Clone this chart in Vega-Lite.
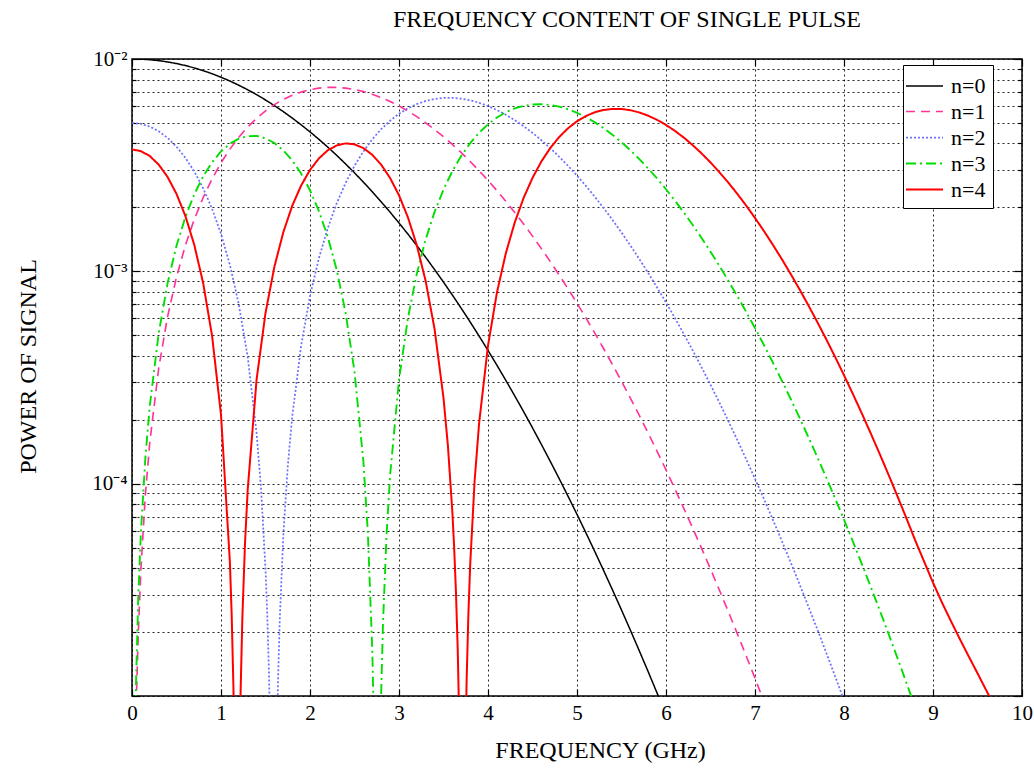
{
"$schema": "https://vega.github.io/schema/vega-lite/v6.json",
"width": 890, "height": 637,
"autosize": {"type": "none"},
"padding": {"left": 132, "top": 59, "right": 12, "bottom": 72},
"title": {"text": "FREQUENCY CONTENT OF SINGLE PULSE", "font": "Liberation Serif", "fontSize": 24, "fontWeight": "normal", "color": "black", "offset": 16, "dx": 50, "anchor": "middle"},
"config": {
  "font": "Liberation Serif",
  "view": {"stroke": "black", "strokeWidth": 1.5},
  "legend": {"labelFont": "Liberation Serif"},
  "axis": {"labelFont": "Liberation Serif", "titleFont": "Liberation Serif", "labelColor": "black", "titleColor": "black", "titleFontWeight": "normal", "gridColor": "black", "gridDash": [2, 3], "gridOpacity": 0.85, "gridWidth": 1, "tickColor": "black", "tickWidth": 1.2, "domain": false}
},
"datasets": {"pts": [
{"f":0,"n":"n=0","p":0.01},{"f":0.1,"n":"n=0","p":0.00998},{"f":0.2,"n":"n=0","p":0.009921},{"f":0.3,"n":"n=0","p":0.009824},{"f":0.4,"n":"n=0","p":0.009689},{"f":0.5,"n":"n=0","p":0.009518},{"f":0.6,"n":"n=0","p":0.009314},{"f":0.7,"n":"n=0","p":0.009077},{"f":0.8,"n":"n=0","p":0.008812},{"f":0.9,"n":"n=0","p":0.008521},{"f":1,"n":"n=0","p":0.008208},{"f":1.1,"n":"n=0","p":0.007874},{"f":1.2,"n":"n=0","p":0.007524},{"f":1.3,"n":"n=0","p":0.007162},{"f":1.4,"n":"n=0","p":0.00679},{"f":1.5,"n":"n=0","p":0.006412},{"f":1.6,"n":"n=0","p":0.006031},{"f":1.7,"n":"n=0","p":0.00565},{"f":1.8,"n":"n=0","p":0.005273},{"f":1.9,"n":"n=0","p":0.004901},{"f":2,"n":"n=0","p":0.004538},{"f":2.1,"n":"n=0","p":0.004185},{"f":2.2,"n":"n=0","p":0.003844},{"f":2.3,"n":"n=0","p":0.003517},{"f":2.4,"n":"n=0","p":0.003205},{"f":2.5,"n":"n=0","p":0.00291},{"f":2.6,"n":"n=0","p":0.002631},{"f":2.7,"n":"n=0","p":0.002369},{"f":2.8,"n":"n=0","p":0.002125},{"f":2.9,"n":"n=0","p":0.001899},{"f":3,"n":"n=0","p":0.00169},{"f":3.1,"n":"n=0","p":0.001498},{"f":3.2,"n":"n=0","p":0.001323},{"f":3.3,"n":"n=0","p":0.001164},{"f":3.4,"n":"n=0","p":0.001019},{"f":3.5,"n":"n=0","p":8.894e-4},{"f":3.6,"n":"n=0","p":7.731e-4},{"f":3.7,"n":"n=0","p":6.692e-4},{"f":3.8,"n":"n=0","p":5.771e-4},{"f":3.9,"n":"n=0","p":4.957e-4},{"f":4,"n":"n=0","p":4.241e-4},{"f":4.1,"n":"n=0","p":3.614e-4},{"f":4.2,"n":"n=0","p":3.067e-4},{"f":4.3,"n":"n=0","p":2.593e-4},{"f":4.4,"n":"n=0","p":2.184e-4},{"f":4.5,"n":"n=0","p":1.832e-4},{"f":4.6,"n":"n=0","p":1.53e-4},{"f":4.7,"n":"n=0","p":1.273e-4},{"f":4.8,"n":"n=0","p":1.056e-4},{"f":4.9,"n":"n=0","p":8.715e-5},{"f":5,"n":"n=0","p":7.167e-5},{"f":5.1,"n":"n=0","p":5.871e-5},{"f":5.2,"n":"n=0","p":4.79e-5},{"f":5.3,"n":"n=0","p":3.893e-5},{"f":5.4,"n":"n=0","p":3.151e-5},{"f":5.5,"n":"n=0","p":2.541e-5},{"f":5.6,"n":"n=0","p":2.041e-5},{"f":5.7,"n":"n=0","p":1.632e-5},{"f":5.8,"n":"n=0","p":1.301e-5},{"f":5.9,"n":"n=0","p":1.032e-5},{"f":6,"n":"n=0","p":8.16e-6},
{"f":0,"n":"n=1","p":1e-9},{"f":0.05,"n":"n=1","p":9.88e-6},{"f":0.07,"n":"n=1","p":1.935e-5},{"f":0.1,"n":"n=1","p":3.943e-5},{"f":0.15,"n":"n=1","p":8.85e-5},{"f":0.2,"n":"n=1","p":1.568e-4},{"f":0.3,"n":"n=1","p":3.493e-4},{"f":0.4,"n":"n=1","p":6.124e-4},{"f":0.5,"n":"n=1","p":9.401e-4},{"f":0.6,"n":"n=1","p":0.001325},{"f":0.7,"n":"n=1","p":0.001757},{"f":0.8,"n":"n=1","p":0.002228},{"f":0.9,"n":"n=1","p":0.002727},{"f":1,"n":"n=1","p":0.003242},{"f":1.1,"n":"n=1","p":0.003764},{"f":1.2,"n":"n=1","p":0.004281},{"f":1.3,"n":"n=1","p":0.004782},{"f":1.4,"n":"n=1","p":0.005258},{"f":1.5,"n":"n=1","p":0.005699},{"f":1.6,"n":"n=1","p":0.006099},{"f":1.7,"n":"n=1","p":0.006451},{"f":1.8,"n":"n=1","p":0.006749},{"f":1.9,"n":"n=1","p":0.00699},{"f":2,"n":"n=1","p":0.007171},{"f":2.1,"n":"n=1","p":0.007291},{"f":2.2,"n":"n=1","p":0.00735},{"f":2.3,"n":"n=1","p":0.00735},{"f":2.4,"n":"n=1","p":0.007294},{"f":2.5,"n":"n=1","p":0.007184},{"f":2.6,"n":"n=1","p":0.007026},{"f":2.7,"n":"n=1","p":0.006824},{"f":2.8,"n":"n=1","p":0.006583},{"f":2.9,"n":"n=1","p":0.00631},{"f":3,"n":"n=1","p":0.006009},{"f":3.1,"n":"n=1","p":0.005688},{"f":3.2,"n":"n=1","p":0.005352},{"f":3.3,"n":"n=1","p":0.005006},{"f":3.4,"n":"n=1","p":0.004655},{"f":3.5,"n":"n=1","p":0.004304},{"f":3.6,"n":"n=1","p":0.003958},{"f":3.7,"n":"n=1","p":0.00362},{"f":3.8,"n":"n=1","p":0.003292},{"f":3.9,"n":"n=1","p":0.002978},{"f":4,"n":"n=1","p":0.00268},{"f":4.1,"n":"n=1","p":0.0024},{"f":4.2,"n":"n=1","p":0.002137},{"f":4.3,"n":"n=1","p":0.001894},{"f":4.4,"n":"n=1","p":0.00167},{"f":4.5,"n":"n=1","p":0.001465},{"f":4.6,"n":"n=1","p":0.001279},{"f":4.7,"n":"n=1","p":0.001111},{"f":4.8,"n":"n=1","p":9.607e-4},{"f":4.9,"n":"n=1","p":8.266e-4},{"f":5,"n":"n=1","p":7.078e-4},{"f":5.1,"n":"n=1","p":6.033e-4},{"f":5.2,"n":"n=1","p":5.117e-4},{"f":5.3,"n":"n=1","p":4.32e-4},{"f":5.4,"n":"n=1","p":3.63e-4},{"f":5.5,"n":"n=1","p":3.036e-4},{"f":5.6,"n":"n=1","p":2.528e-4},{"f":5.7,"n":"n=1","p":2.095e-4},{"f":5.8,"n":"n=1","p":1.729e-4},{"f":5.9,"n":"n=1","p":1.42e-4},{"f":6,"n":"n=1","p":1.161e-4},{"f":6.1,"n":"n=1","p":9.445e-5},{"f":6.2,"n":"n=1","p":7.653e-5},{"f":6.3,"n":"n=1","p":6.173e-5},{"f":6.4,"n":"n=1","p":4.957e-5},{"f":6.5,"n":"n=1","p":3.963e-5},{"f":6.6,"n":"n=1","p":3.154e-5},{"f":6.7,"n":"n=1","p":2.499e-5},{"f":6.8,"n":"n=1","p":1.972e-5},{"f":6.9,"n":"n=1","p":1.549e-5},{"f":7,"n":"n=1","p":1.211e-5},{"f":7.1,"n":"n=1","p":9.43e-6},
{"f":0,"n":"n=2","p":0.005},{"f":0.1,"n":"n=2","p":0.004951},{"f":0.2,"n":"n=2","p":0.004805},{"f":0.3,"n":"n=2","p":0.004569},{"f":0.4,"n":"n=2","p":0.004251},{"f":0.5,"n":"n=2","p":0.003865},{"f":0.6,"n":"n=2","p":0.003426},{"f":0.7,"n":"n=2","p":0.002952},{"f":0.8,"n":"n=2","p":0.00246},{"f":0.9,"n":"n=2","p":0.00197},{"f":1,"n":"n=2","p":0.001502},{"f":1.1,"n":"n=2","p":0.001073},{"f":1.2,"n":"n=2","p":6.992e-4},{"f":1.3,"n":"n=2","p":3.955e-4},{"f":1.4,"n":"n=2","p":1.729e-4},{"f":1.45,"n":"n=2","p":9.47e-5},{"f":1.5,"n":"n=2","p":3.958e-5},{"f":1.52,"n":"n=2","p":2.412e-5},{"f":1.54,"n":"n=2","p":1.245e-5},{"f":1.56,"n":"n=2","p":4.6e-6},{"f":1.591,"n":"n=2","p":1e-9},{"f":1.62,"n":"n=2","p":4.03e-6},{"f":1.64,"n":"n=2","p":1.15e-5},{"f":1.66,"n":"n=2","p":2.279e-5},{"f":1.7,"n":"n=2","p":5.675e-5},{"f":1.75,"n":"n=2","p":1.203e-4},{"f":1.8,"n":"n=2","p":2.067e-4},{"f":1.9,"n":"n=2","p":4.451e-4},{"f":2,"n":"n=2","p":7.639e-4},{"f":2.1,"n":"n=2","p":0.001153},{"f":2.2,"n":"n=2","p":0.001599},{"f":2.3,"n":"n=2","p":0.002089},{"f":2.4,"n":"n=2","p":0.002608},{"f":2.5,"n":"n=2","p":0.00314},{"f":2.6,"n":"n=2","p":0.003671},{"f":2.7,"n":"n=2","p":0.004187},{"f":2.8,"n":"n=2","p":0.004674},{"f":2.9,"n":"n=2","p":0.005122},{"f":3,"n":"n=2","p":0.005519},{"f":3.1,"n":"n=2","p":0.005859},{"f":3.2,"n":"n=2","p":0.006135},{"f":3.3,"n":"n=2","p":0.006344},{"f":3.4,"n":"n=2","p":0.006484},{"f":3.5,"n":"n=2","p":0.006556},{"f":3.6,"n":"n=2","p":0.006561},{"f":3.7,"n":"n=2","p":0.006503},{"f":3.8,"n":"n=2","p":0.006387},{"f":3.9,"n":"n=2","p":0.006218},{"f":4,"n":"n=2","p":0.006003},{"f":4.1,"n":"n=2","p":0.005749},{"f":4.2,"n":"n=2","p":0.005464},{"f":4.3,"n":"n=2","p":0.005153},{"f":4.4,"n":"n=2","p":0.004826},{"f":4.5,"n":"n=2","p":0.004487},{"f":4.6,"n":"n=2","p":0.004144},{"f":4.7,"n":"n=2","p":0.003801},{"f":4.8,"n":"n=2","p":0.003464},{"f":4.9,"n":"n=2","p":0.003137},{"f":5,"n":"n=2","p":0.002823},{"f":5.1,"n":"n=2","p":0.002525},{"f":5.2,"n":"n=2","p":0.002245},{"f":5.3,"n":"n=2","p":0.001984},{"f":5.4,"n":"n=2","p":0.001744},{"f":5.5,"n":"n=2","p":0.001523},{"f":5.6,"n":"n=2","p":0.001323},{"f":5.7,"n":"n=2","p":0.001143},{"f":5.8,"n":"n=2","p":9.823e-4},{"f":5.9,"n":"n=2","p":8.393e-4},{"f":6,"n":"n=2","p":7.133e-4},{"f":6.1,"n":"n=2","p":6.03e-4},{"f":6.2,"n":"n=2","p":5.071e-4},{"f":6.3,"n":"n=2","p":4.242e-4},{"f":6.4,"n":"n=2","p":3.53e-4},{"f":6.5,"n":"n=2","p":2.923e-4},{"f":6.6,"n":"n=2","p":2.408e-4},{"f":6.7,"n":"n=2","p":1.973e-4},{"f":6.8,"n":"n=2","p":1.609e-4},{"f":6.9,"n":"n=2","p":1.306e-4},{"f":7,"n":"n=2","p":1.055e-4},{"f":7.1,"n":"n=2","p":8.474e-5},{"f":7.2,"n":"n=2","p":6.776e-5},{"f":7.3,"n":"n=2","p":5.392e-5},{"f":7.4,"n":"n=2","p":4.27e-5},{"f":7.5,"n":"n=2","p":3.366e-5},{"f":7.6,"n":"n=2","p":2.64e-5},{"f":7.7,"n":"n=2","p":2.061e-5},{"f":7.8,"n":"n=2","p":1.601e-5},{"f":7.9,"n":"n=2","p":1.239e-5},{"f":8,"n":"n=2","p":9.53e-6},
{"f":0,"n":"n=3","p":1e-9},{"f":0.04,"n":"n=3","p":9.5e-6},{"f":0.07,"n":"n=3","p":2.9e-5},{"f":0.1,"n":"n=3","p":5.898e-5},{"f":0.15,"n":"n=3","p":1.32e-4},{"f":0.2,"n":"n=3","p":2.327e-4},{"f":0.3,"n":"n=3","p":5.116e-4},{"f":0.4,"n":"n=3","p":8.803e-4},{"f":0.5,"n":"n=3","p":0.001319},{"f":0.6,"n":"n=3","p":0.001803},{"f":0.7,"n":"n=3","p":0.002307},{"f":0.8,"n":"n=3","p":0.002803},{"f":0.9,"n":"n=3","p":0.003264},{"f":1,"n":"n=3","p":0.003667},{"f":1.1,"n":"n=3","p":0.00399},{"f":1.2,"n":"n=3","p":0.004217},{"f":1.3,"n":"n=3","p":0.004335},{"f":1.4,"n":"n=3","p":0.004341},{"f":1.5,"n":"n=3","p":0.004233},{"f":1.6,"n":"n=3","p":0.00402},{"f":1.7,"n":"n=3","p":0.003713},{"f":1.8,"n":"n=3","p":0.003328},{"f":1.9,"n":"n=3","p":0.002886},{"f":2,"n":"n=3","p":0.002409},{"f":2.1,"n":"n=3","p":0.001922},{"f":2.2,"n":"n=3","p":0.00145},{"f":2.3,"n":"n=3","p":0.001015},{"f":2.4,"n":"n=3","p":6.38e-4},{"f":2.5,"n":"n=3","p":3.374e-4},{"f":2.6,"n":"n=3","p":1.27e-4},{"f":2.65,"n":"n=3","p":5.88e-5},{"f":2.7,"n":"n=3","p":1.638e-5},{"f":2.72,"n":"n=3","p":6.73e-6},{"f":2.74,"n":"n=3","p":1.3e-6},{"f":2.7557,"n":"n=3","p":1e-9},{"f":2.78,"n":"n=3","p":3.13e-6},{"f":2.8,"n":"n=3","p":1.038e-5},{"f":2.82,"n":"n=3","p":2.185e-5},{"f":2.86,"n":"n=3","p":5.73e-5},{"f":2.9,"n":"n=3","p":1.094e-4},{"f":3,"n":"n=3","p":3.091e-4},{"f":3.1,"n":"n=3","p":6.015e-4},{"f":3.2,"n":"n=3","p":9.749e-4},{"f":3.3,"n":"n=3","p":0.001415},{"f":3.4,"n":"n=3","p":0.001905},{"f":3.5,"n":"n=3","p":0.002428},{"f":3.6,"n":"n=3","p":0.002965},{"f":3.7,"n":"n=3","p":0.003499},{"f":3.8,"n":"n=3","p":0.004014},{"f":3.9,"n":"n=3","p":0.004494},{"f":4,"n":"n=3","p":0.004927},{"f":4.1,"n":"n=3","p":0.005302},{"f":4.2,"n":"n=3","p":0.005612},{"f":4.3,"n":"n=3","p":0.00585},{"f":4.4,"n":"n=3","p":0.006015},{"f":4.5,"n":"n=3","p":0.006105},{"f":4.6,"n":"n=3","p":0.006124},{"f":4.7,"n":"n=3","p":0.006075},{"f":4.8,"n":"n=3","p":0.005963},{"f":4.9,"n":"n=3","p":0.005795},{"f":5,"n":"n=3","p":0.005579},{"f":5.1,"n":"n=3","p":0.005322},{"f":5.2,"n":"n=3","p":0.005033},{"f":5.3,"n":"n=3","p":0.004721},{"f":5.4,"n":"n=3","p":0.004392},{"f":5.5,"n":"n=3","p":0.004054},{"f":5.6,"n":"n=3","p":0.003714},{"f":5.7,"n":"n=3","p":0.003378},{"f":5.8,"n":"n=3","p":0.00305},{"f":5.9,"n":"n=3","p":0.002735},{"f":6,"n":"n=3","p":0.002436},{"f":6.1,"n":"n=3","p":0.002155},{"f":6.2,"n":"n=3","p":0.001894},{"f":6.3,"n":"n=3","p":0.001654},{"f":6.4,"n":"n=3","p":0.001436},{"f":6.5,"n":"n=3","p":0.001238},{"f":6.6,"n":"n=3","p":0.001061},{"f":6.7,"n":"n=3","p":9.04e-4},{"f":6.8,"n":"n=3","p":7.661e-4},{"f":6.9,"n":"n=3","p":6.452e-4},{"f":7,"n":"n=3","p":5.403e-4},{"f":7.1,"n":"n=3","p":4.499e-4},{"f":7.2,"n":"n=3","p":3.725e-4},{"f":7.3,"n":"n=3","p":3.067e-4},{"f":7.4,"n":"n=3","p":2.511e-4},{"f":7.5,"n":"n=3","p":2.045e-4},{"f":7.6,"n":"n=3","p":1.657e-4},{"f":7.7,"n":"n=3","p":1.335e-4},{"f":7.8,"n":"n=3","p":1.07e-4},{"f":7.9,"n":"n=3","p":8.531e-5},{"f":8,"n":"n=3","p":6.766e-5},{"f":8.1,"n":"n=3","p":5.339e-5},{"f":8.2,"n":"n=3","p":4.191e-5},{"f":8.3,"n":"n=3","p":3.273e-5},{"f":8.4,"n":"n=3","p":2.543e-5},{"f":8.5,"n":"n=3","p":1.966e-5},{"f":8.6,"n":"n=3","p":1.512e-5},{"f":8.7,"n":"n=3","p":1.159e-5},{"f":8.8,"n":"n=3","p":8.83e-6},
{"f":0,"n":"n=4","p":0.00375},{"f":0.1,"n":"n=4","p":0.003684},{"f":0.2,"n":"n=4","p":0.00349},{"f":0.3,"n":"n=4","p":0.003181},{"f":0.4,"n":"n=4","p":0.002781},{"f":0.5,"n":"n=4","p":0.002317},{"f":0.6,"n":"n=4","p":0.001822},{"f":0.7,"n":"n=4","p":0.001331},{"f":0.8,"n":"n=4","p":8.786e-4},{"f":0.9,"n":"n=4","p":4.964e-4},{"f":1,"n":"n=4","p":2.111e-4},{"f":1.1,"n":"n=4","p":4.261e-5},{"f":1.12,"n":"n=4","p":2.41e-5},{"f":1.14,"n":"n=4","p":1.08e-5},{"f":1.16,"n":"n=4","p":2.76e-6},{"f":1.1805,"n":"n=4","p":1e-9},{"f":1.2,"n":"n=4","p":2.52e-6},{"f":1.22,"n":"n=4","p":1.032e-5},{"f":1.24,"n":"n=4","p":2.337e-5},{"f":1.27,"n":"n=4","p":5.27e-5},{"f":1.3,"n":"n=4","p":9.363e-5},{"f":1.4,"n":"n=4","p":3.097e-4},{"f":1.5,"n":"n=4","p":6.362e-4},{"f":1.6,"n":"n=4","p":0.001051},{"f":1.7,"n":"n=4","p":0.001527},{"f":1.8,"n":"n=4","p":0.002033},{"f":1.9,"n":"n=4","p":0.002535},{"f":2,"n":"n=4","p":0.003002},{"f":2.1,"n":"n=4","p":0.003403},{"f":2.2,"n":"n=4","p":0.003716},{"f":2.3,"n":"n=4","p":0.00392},{"f":2.4,"n":"n=4","p":0.004004},{"f":2.5,"n":"n=4","p":0.003964},{"f":2.6,"n":"n=4","p":0.003805},{"f":2.7,"n":"n=4","p":0.003537},{"f":2.8,"n":"n=4","p":0.003178},{"f":2.9,"n":"n=4","p":0.002751},{"f":3,"n":"n=4","p":0.002281},{"f":3.1,"n":"n=4","p":0.001797},{"f":3.2,"n":"n=4","p":0.001327},{"f":3.3,"n":"n=4","p":8.982e-4},{"f":3.4,"n":"n=4","p":5.336e-4},{"f":3.5,"n":"n=4","p":2.536e-4},{"f":3.55,"n":"n=4","p":1.502e-4},{"f":3.6,"n":"n=4","p":7.302e-5},{"f":3.62,"n":"n=4","p":4.974e-5},{"f":3.64,"n":"n=4","p":3.088e-5},{"f":3.66,"n":"n=4","p":1.646e-5},{"f":3.68,"n":"n=4","p":6.56e-6},{"f":3.714,"n":"n=4","p":1e-9},{"f":3.74,"n":"n=4","p":3.81e-6},{"f":3.76,"n":"n=4","p":1.192e-5},{"f":3.78,"n":"n=4","p":2.453e-5},{"f":3.8,"n":"n=4","p":4.16e-5},{"f":3.85,"n":"n=4","p":1.036e-4},{"f":3.9,"n":"n=4","p":1.925e-4},{"f":4,"n":"n=4","p":4.469e-4},{"f":4.1,"n":"n=4","p":7.929e-4},{"f":4.2,"n":"n=4","p":0.001215},{"f":4.3,"n":"n=4","p":0.001696},{"f":4.4,"n":"n=4","p":0.002216},{"f":4.5,"n":"n=4","p":0.002755},{"f":4.6,"n":"n=4","p":0.003293},{"f":4.7,"n":"n=4","p":0.00381},{"f":4.8,"n":"n=4","p":0.004291},{"f":4.9,"n":"n=4","p":0.004722},{"f":5,"n":"n=4","p":0.00509},{"f":5.1,"n":"n=4","p":0.005388},{"f":5.2,"n":"n=4","p":0.005611},{"f":5.3,"n":"n=4","p":0.005755},{"f":5.4,"n":"n=4","p":0.005822},{"f":5.5,"n":"n=4","p":0.005815},{"f":5.6,"n":"n=4","p":0.005739},{"f":5.7,"n":"n=4","p":0.0056},{"f":5.8,"n":"n=4","p":0.005407},{"f":5.9,"n":"n=4","p":0.005167},{"f":6,"n":"n=4","p":0.004891},{"f":6.1,"n":"n=4","p":0.004587},{"f":6.2,"n":"n=4","p":0.004264},{"f":6.3,"n":"n=4","p":0.00393},{"f":6.4,"n":"n=4","p":0.003592},{"f":6.5,"n":"n=4","p":0.003257},{"f":6.6,"n":"n=4","p":0.002931},{"f":6.7,"n":"n=4","p":0.002617},{"f":6.8,"n":"n=4","p":0.00232},{"f":6.9,"n":"n=4","p":0.002042},{"f":7,"n":"n=4","p":0.001784},{"f":7.1,"n":"n=4","p":0.001549},{"f":7.2,"n":"n=4","p":0.001335},{"f":7.3,"n":"n=4","p":0.001144},{"f":7.4,"n":"n=4","p":9.731e-4},{"f":7.5,"n":"n=4","p":8.228e-4},{"f":7.6,"n":"n=4","p":6.913e-4},{"f":7.7,"n":"n=4","p":5.773e-4},{"f":7.8,"n":"n=4","p":4.792e-4},{"f":7.9,"n":"n=4","p":3.953e-4},{"f":8,"n":"n=4","p":3.242e-4},{"f":8.1,"n":"n=4","p":2.644e-4},{"f":8.2,"n":"n=4","p":2.143e-4},{"f":8.3,"n":"n=4","p":1.727e-4},{"f":8.4,"n":"n=4","p":1.384e-4},{"f":8.5,"n":"n=4","p":1.103e-4},{"f":8.6,"n":"n=4","p":8.741e-5},{"f":8.7,"n":"n=4","p":6.896e-5},{"f":8.8,"n":"n=4","p":5.407e-5},{"f":8.9,"n":"n=4","p":4.3e-5},{"f":9,"n":"n=4","p":3.42e-5},{"f":9.1,"n":"n=4","p":2.76e-5},{"f":9.2,"n":"n=4","p":2.26e-5},{"f":9.3,"n":"n=4","p":1.86e-5},{"f":9.4,"n":"n=4","p":1.54e-5},{"f":9.5,"n":"n=4","p":1.28e-5},{"f":9.6,"n":"n=4","p":1.06e-5},{"f":9.7,"n":"n=4","p":8.8e-6}
]},
"data": {"name": "pts"},
"layer": [
  {
    "mark": {"type": "line", "clip": true},
    "encoding": {
      "x": {"field": "f", "type": "quantitative", "scale": {"domain": [0, 10], "nice": false, "zero": false},
        "axis": {"orient": "bottom", "values": [0,1,2,3,4,5,6,7,8,9,10], "grid": true, "ticks": false, "labelFontSize": 21, "labelPadding": 6, "labelFlush": false, "labelOverlap": false, "title": "FREQUENCY (GHz)", "titleFontSize": 24, "titleX": 468, "titleY": 61, "titleBaseline": "alphabetic"}},
      "y": {"field": "p", "type": "quantitative", "scale": {"type": "log", "domain": [0.00001, 0.01], "nice": false},
        "axis": {"orient": "left", "values": [1e-5,2e-5,3e-5,4e-5,5e-5,6e-5,7e-5,8e-5,9e-5,1e-4,2e-4,3e-4,4e-4,5e-4,6e-4,7e-4,8e-4,9e-4,0.001,0.002,0.003,0.004,0.005,0.006,0.007,0.008,0.009,0.01], "grid": true, "ticks": false, "labelExpr": "datum.value == 0.01 ? '10⁻²' : datum.value == 0.001 ? '10⁻³' : datum.value == 0.0001 ? '10⁻⁴' : ''", "labelFontSize": 21, "labelPadding": 5, "labelOverlap": false, "labelFlush": false, "labelBaseline": "middle", "title": "POWER OF SIGNAL", "titleFontSize": 24, "titleX": -97, "titleY": 307, "titleBaseline": "alphabetic", "titleAngle": 270}},
      "color": {"field": "n", "type": "nominal", "scale": {"domain": ["n=0","n=1","n=2","n=3","n=4"], "range": ["#000000","#ff3399","#7070ff","#00dd00","#ff0000"]},
        "legend": {"orient": "none", "legendX": 771, "legendY": 6, "title": null, "padding": 7, "strokeColor": "black", "fillColor": "white", "labelFont": "Liberation Serif", "labelFontSize": 22, "labelColor": "black", "symbolType": "M-1.4,0H1.4", "symbolSize": 700, "labelOffset": 12, "rowPadding": 0}},
      "strokeDash": {"field": "n", "type": "nominal", "scale": {"domain": ["n=0","n=1","n=2","n=3","n=4"], "range": [[1,0],[9,6],[2,2],[10,4,2,4],[1,0]]}},
      "strokeWidth": {"field": "n", "type": "ordinal", "scale": {"domain": ["n=0","n=1","n=2","n=3","n=4"], "range": [1.5,2,3,2,4.2]}}
    }
  },
  {
    "mark": {"type": "line", "opacity": 0},
    "encoding": {
      "x": {"field": "f", "type": "quantitative", "scale": {"domain": [0, 10], "nice": false, "zero": false},
        "axis": {"orient": "top", "values": [0,1,2,3,4,5,6,7,8,9,10], "labels": false, "grid": false, "ticks": true, "tickSize": -7, "title": null}},
      "y": {"field": "p", "type": "quantitative", "scale": {"type": "log", "domain": [0.00001, 0.01], "nice": false},
        "axis": {"orient": "right", "values": [1e-5,2e-5,3e-5,4e-5,5e-5,6e-5,7e-5,8e-5,9e-5,1e-4,2e-4,3e-4,4e-4,5e-4,6e-4,7e-4,8e-4,9e-4,0.001,0.002,0.003,0.004,0.005,0.006,0.007,0.008,0.009,0.01], "labels": false, "grid": false, "ticks": true, "tickSize": {"condition": {"test": "datum.value == 0.01 || datum.value == 0.001 || datum.value == 0.0001 || datum.value == 0.00001", "value": -8}, "value": -4}, "title": null}}
    }
  },
  {
    "mark": {"type": "line", "opacity": 0},
    "encoding": {
      "x": {"field": "f", "type": "quantitative", "scale": {"domain": [0, 10], "nice": false, "zero": false},
        "axis": {"orient": "bottom", "values": [0,1,2,3,4,5,6,7,8,9,10], "labels": false, "grid": false, "ticks": true, "tickSize": -7, "title": null}},
      "y": {"field": "p", "type": "quantitative", "scale": {"type": "log", "domain": [0.00001, 0.01], "nice": false},
        "axis": {"orient": "left", "values": [1e-5,2e-5,3e-5,4e-5,5e-5,6e-5,7e-5,8e-5,9e-5,1e-4,2e-4,3e-4,4e-4,5e-4,6e-4,7e-4,8e-4,9e-4,0.001,0.002,0.003,0.004,0.005,0.006,0.007,0.008,0.009,0.01], "labels": false, "grid": false, "ticks": true, "tickSize": {"condition": {"test": "datum.value == 0.01 || datum.value == 0.001 || datum.value == 0.0001 || datum.value == 0.00001", "value": -8}, "value": -4}, "title": null}}
    }
  }
],
"resolve": {"axis": {"x": "independent", "y": "independent"}}
}
